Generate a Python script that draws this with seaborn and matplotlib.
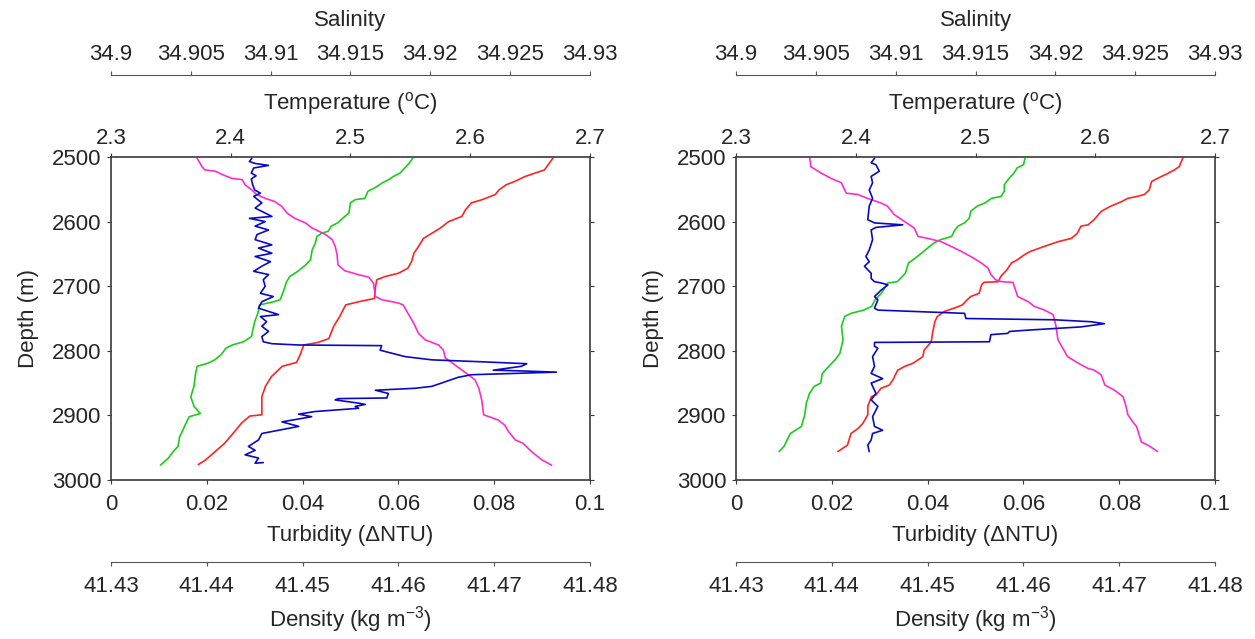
import matplotlib
matplotlib.use("Agg")
import matplotlib.pyplot as plt
import seaborn as sns

sns.set_style("white")
plt.rcParams['font.family'] = ['Liberation Sans', 'DejaVu Sans']
plt.rcParams['mathtext.fontset'] = 'custom'
plt.rcParams['mathtext.rm'] = 'Liberation Sans'
plt.rcParams['mathtext.it'] = 'Liberation Sans:italic'

# axis ticks / labels
depth_ticks = [2500, 2600, 2700, 2800, 2900, 3000]
turb_ticks = [0, 0.02, 0.04, 0.06, 0.08, 0.1]
turb_labels = ['0', '0.02', '0.04', '0.06', '0.08', '0.1']
temp_ticks = [2.3, 2.4, 2.5, 2.6, 2.7]
temp_labels = ['2.3', '2.4', '2.5', '2.6', '2.7']
sal_ticks = [34.9, 34.905, 34.91, 34.915, 34.92, 34.925, 34.93]
sal_labels = ['34.9', '34.905', '34.91', '34.915', '34.92', '34.925', '34.93']
dens_ticks = [41.43, 41.44, 41.45, 41.46, 41.47, 41.48]
dens_labels = ['41.43', '41.44', '41.45', '41.46', '41.47', '41.48']

# ---- left profile ----
l_temp_depth = [2502, 2520, 2525, 2530, 2538, 2543, 2551, 2558, 2566, 2571, 2582, 2592, 2600, 2610,
                2618, 2626, 2638, 2649, 2662, 2672, 2680, 2685, 2690, 2700, 2719, 2724, 2729, 2747,
                2762, 2781, 2787, 2791, 2806, 2818, 2824, 2840, 2855, 2871, 2899, 2901, 2912, 2930,
                2943, 2956, 2969, 2976]
l_temp = [2.669, 2.662, 2.654, 2.646, 2.637, 2.630, 2.624, 2.621, 2.610, 2.601, 2.596, 2.593, 2.582,
          2.575, 2.568, 2.561, 2.557, 2.553, 2.551, 2.548, 2.540, 2.529, 2.522, 2.521, 2.520, 2.507,
          2.496, 2.491, 2.486, 2.482, 2.473, 2.461, 2.458, 2.455, 2.443, 2.434, 2.429, 2.426, 2.426,
          2.416, 2.409, 2.401, 2.395, 2.387, 2.379, 2.373]

l_dens_depth = [2502, 2515, 2520, 2522, 2527, 2533, 2535, 2543, 2551, 2558, 2564, 2569, 2576, 2587,
                2595, 2602, 2610, 2615, 2620, 2628, 2638, 2651, 2667, 2676, 2682, 2686, 2695, 2716,
                2721, 2726, 2729, 2742, 2757, 2773, 2783, 2791, 2799, 2811, 2824, 2837, 2845, 2858,
                2876, 2899, 2907, 2915, 2925, 2938, 2943, 2956, 2969, 2977]
l_dens = [41.4390, 41.4395, 41.4398, 41.4409, 41.4416, 41.4426, 41.4437, 41.4440, 41.4447, 41.4452,
          41.4461, 41.4471, 41.4478, 41.4484, 41.4492, 41.4503, 41.4510, 41.4517, 41.4524, 41.4531,
          41.4534, 41.4536, 41.4537, 41.4544, 41.4558, 41.4569, 41.4574, 41.4576, 41.4583, 41.4600,
          41.4605, 41.4610, 41.4616, 41.4621, 41.4628, 41.4642, 41.4647, 41.4649, 41.4661, 41.4673,
          41.4680, 41.4684, 41.4687, 41.4689, 41.4704, 41.4711, 41.4715, 41.4722, 41.4730, 41.4739,
          41.4750, 41.4760]

l_sal_depth = [2502, 2509, 2517, 2525, 2530, 2535, 2540, 2548, 2553, 2564, 2566, 2571, 2587, 2595,
               2602, 2607, 2615, 2618, 2623, 2633, 2644, 2659, 2667, 2677, 2685, 2693, 2708, 2721,
               2724, 2729, 2742, 2755, 2778, 2786, 2791, 2796, 2806, 2814, 2819, 2824, 2835, 2855,
               2871, 2886, 2897, 2902, 2912, 2923, 2933, 2948, 2956, 2966, 2977]
l_sal = [34.9189, 34.9187, 34.9184, 34.9181, 34.9177, 34.9174, 34.9170, 34.9165, 34.9161, 34.9159,
         34.9153, 34.9150, 34.9149, 34.9145, 34.9142, 34.9138, 34.9136, 34.9132, 34.9129, 34.9128,
         34.9126, 34.9125, 34.9122, 34.9117, 34.9112, 34.9110, 34.9108, 34.9106, 34.9102, 34.9093,
         34.9092, 34.9090, 34.9088, 34.9083, 34.9076, 34.9072, 34.9069, 34.9065, 34.9061, 34.9054,
         34.9053, 34.9052, 34.9050, 34.9052, 34.9056, 34.9049, 34.9047, 34.9045, 34.9043, 34.9042,
         34.9039, 34.9036, 34.9031]

l_turb_depth = [2502, 2507, 2510, 2513, 2517, 2525, 2529, 2534, 2543, 2551, 2556, 2561, 2571, 2579,
                2592, 2595, 2600, 2607, 2613, 2620, 2628, 2636, 2641, 2649, 2654, 2662, 2669, 2677,
                2682, 2690, 2700, 2711, 2716, 2724, 2734, 2744, 2747, 2755, 2762, 2770, 2778, 2786,
                2789, 2791, 2792, 2799, 2801, 2809, 2814, 2817, 2820, 2824, 2830, 2831, 2833, 2837,
                2841, 2855, 2858, 2861, 2866, 2873, 2874, 2876, 2881, 2883, 2886, 2889, 2894, 2898,
                2902, 2910, 2917, 2923, 2928, 2938, 2948, 2954, 2961, 2966, 2974, 2973]
l_turb = [0.0294, 0.0289, 0.0301, 0.0329, 0.0298, 0.0293, 0.0303, 0.0293, 0.0296, 0.0300, 0.0312,
          0.0298, 0.0315, 0.0301, 0.0336, 0.0289, 0.0322, 0.0301, 0.0329, 0.0305, 0.0301, 0.0336,
          0.0308, 0.0336, 0.0301, 0.0333, 0.0315, 0.0298, 0.0329, 0.0318, 0.0322, 0.0312, 0.0339,
          0.0315, 0.0308, 0.0350, 0.0312, 0.0325, 0.0315, 0.0329, 0.0315, 0.0318, 0.0336, 0.0392,
          0.0565, 0.0562, 0.0572, 0.0614, 0.0670, 0.0774, 0.0868, 0.0857, 0.0798, 0.0851, 0.0930,
          0.0753, 0.0725, 0.0670, 0.0635, 0.0552, 0.0579, 0.0576, 0.0475, 0.0468, 0.0517, 0.0531,
          0.0510, 0.0517, 0.0426, 0.0392, 0.0419, 0.0357, 0.0392, 0.0350, 0.0315, 0.0308, 0.0287,
          0.0301, 0.0280, 0.0308, 0.0301, 0.0318]

# ---- right profile ----
r_temp_depth = [2502, 2515, 2520, 2525, 2533, 2538, 2551, 2558, 2561, 2564, 2569, 2576, 2584, 2597,
                2605, 2607, 2618, 2626, 2631, 2638, 2646, 2651, 2659, 2664, 2675, 2685, 2693, 2694,
                2698, 2711, 2716, 2721, 2729, 2734, 2739, 2747, 2755, 2773, 2786, 2799, 2809, 2819,
                2824, 2830, 2845, 2853, 2858, 2868, 2871, 2886, 2899, 2912, 2920, 2928, 2946, 2956]
r_temp = [2.673, 2.670, 2.666, 2.661, 2.652, 2.647, 2.645, 2.641, 2.635, 2.627, 2.622, 2.613, 2.605,
          2.599, 2.594, 2.588, 2.585, 2.580, 2.569, 2.558, 2.546, 2.541, 2.535, 2.530, 2.526, 2.521,
          2.519, 2.507, 2.505, 2.503, 2.496, 2.493, 2.489, 2.482, 2.474, 2.468, 2.466, 2.464, 2.463,
          2.457, 2.456, 2.448, 2.441, 2.435, 2.431, 2.428, 2.421, 2.417, 2.413, 2.410, 2.410, 2.406,
          2.402, 2.396, 2.393, 2.385]

r_dens_depth = [2502, 2515, 2525, 2533, 2540, 2556, 2558, 2564, 2571, 2576, 2589, 2600, 2610, 2623,
                2626, 2631, 2638, 2646, 2654, 2664, 2672, 2682, 2690, 2693, 2694, 2703, 2716, 2724,
                2731, 2737, 2744, 2762, 2783, 2809, 2819, 2827, 2830, 2837, 2853, 2861, 2871, 2886,
                2899, 2910, 2917, 2941, 2948, 2956]
r_dens = [41.4377, 41.4378, 41.4389, 41.4399, 41.4410, 41.4415, 41.4427, 41.4437, 41.4451, 41.4458,
          41.4465, 41.4476, 41.4486, 41.4490, 41.4500, 41.4514, 41.4524, 41.4535, 41.4545, 41.4556,
          41.4563, 41.4566, 41.4571, 41.4577, 41.4589, 41.4591, 41.4594, 41.4605, 41.4611, 41.4622,
          41.4631, 41.4634, 41.4636, 41.4646, 41.4657, 41.4667, 41.4674, 41.4681, 41.4685, 41.4695,
          41.4704, 41.4707, 41.4709, 41.4714, 41.4718, 41.4723, 41.4732, 41.4740]

r_sal_depth = [2502, 2512, 2517, 2525, 2533, 2543, 2553, 2561, 2564, 2571, 2576, 2584, 2595, 2602,
               2607, 2613, 2623, 2628, 2633, 2641, 2649, 2657, 2664, 2680, 2693, 2695, 2703, 2711,
               2721, 2731, 2737, 2742, 2747, 2762, 2783, 2804, 2814, 2827, 2835, 2850, 2855, 2866,
               2881, 2899, 2917, 2928, 2938, 2948, 2956]
r_sal = [34.9181, 34.9180, 34.9176, 34.9174, 34.9171, 34.9168, 34.9168, 34.9166, 34.9160, 34.9156,
         34.9151, 34.9147, 34.9146, 34.9143, 34.9139, 34.9137, 34.9135, 34.9128, 34.9124, 34.9120,
         34.9116, 34.9112, 34.9108, 34.9106, 34.9101, 34.9095, 34.9093, 34.9091, 34.9087, 34.9085,
         34.9080, 34.9072, 34.9068, 34.9066, 34.9067, 34.9065, 34.9062, 34.9057, 34.9054, 34.9053,
         34.9049, 34.9046, 34.9044, 34.9043, 34.9041, 34.9034, 34.9032, 34.9030, 34.9027]

r_turb_depth = [2502, 2509, 2512, 2522, 2530, 2540, 2551, 2564, 2576, 2597, 2602, 2605, 2609, 2613,
                2628, 2644, 2654, 2662, 2669, 2680, 2688, 2693, 2695, 2698, 2706, 2711, 2716, 2721,
                2734, 2737, 2742, 2750, 2752, 2755, 2758, 2763, 2768, 2770, 2773, 2775, 2786, 2787,
                2793, 2796, 2809, 2824, 2835, 2843, 2850, 2866, 2876, 2886, 2902, 2917, 2923, 2928,
                2938, 2946, 2956]
r_turb = [0.0289, 0.0282, 0.0292, 0.0299, 0.0282, 0.0285, 0.0278, 0.0285, 0.0278, 0.0275, 0.0289,
          0.0348, 0.0292, 0.0282, 0.0285, 0.0278, 0.0271, 0.0278, 0.0268, 0.0282, 0.0282, 0.0289,
          0.0303, 0.0317, 0.0303, 0.0296, 0.0289, 0.0296, 0.0289, 0.0296, 0.0477, 0.0480, 0.0665,
          0.0741, 0.0769, 0.0720, 0.0609, 0.0571, 0.0567, 0.0532, 0.0529, 0.0289, 0.0289, 0.0296,
          0.0285, 0.0289, 0.0282, 0.0306, 0.0282, 0.0292, 0.0282, 0.0296, 0.0285, 0.0289, 0.0306,
          0.0285, 0.0282, 0.0275, 0.0278]

c_temp = '#ff2424'
c_sal = '#1ccc1c'
c_dens = '#ff2ccc'
c_turb = '#0a0ac4'
spine_c = '#3a3a3a'
fs = 16
lw = 1.2


def panel(fig, left, temp_d, temp, sal_d, sal, dens_d, dens, turb_d, turb):
    ax = fig.add_axes([left, 0.2488, 0.3817, 0.5055])
    ax_t = ax.twiny()
    ax_s = ax.twiny()
    ax_d = ax.twiny()

    sns.lineplot(x=sal, y=sal_d, ax=ax_s, color=c_sal, lw=lw, sort=False, estimator=None)
    sns.lineplot(x=temp, y=temp_d, ax=ax_t, color=c_temp, lw=lw, sort=False, estimator=None)
    sns.lineplot(x=dens, y=dens_d, ax=ax_d, color=c_dens, lw=lw, sort=False, estimator=None)
    sns.lineplot(x=turb, y=turb_d, ax=ax, color=c_turb, lw=lw, sort=False, estimator=None)

    # turbidity axes on top so the blue profile is drawn last
    ax.set_zorder(10)
    ax.patch.set_visible(False)

    ax.set_ylim(3000, 2500)
    ax.set_yticks(depth_ticks, [str(d) for d in depth_ticks])
    ax.set_ylabel('Depth (m)', fontsize=fs, labelpad=9)

    ax.set_xlim(0, 0.1)
    ax.set_xticks(turb_ticks, turb_labels)
    ax.set_xlabel('Turbidity (\u0394NTU)', fontsize=fs, labelpad=7)

    ax_t.set_xlim(2.3, 2.7)
    ax_t.set_xticks(temp_ticks, temp_labels)
    ax_t.set_xlabel(r'Temperature ($^{\mathrm{o}}$C)', fontsize=fs, labelpad=13)

    ax_s.set_xlim(34.9, 34.93)
    ax_s.set_xticks(sal_ticks, sal_labels)
    ax_s.set_xlabel('Salinity', fontsize=fs, labelpad=13)
    ax_s.xaxis.set_ticks_position('top')
    ax_s.xaxis.set_label_position('top')

    ax_d.set_xlim(41.43, 41.48)
    ax_d.set_xticks(dens_ticks, dens_labels)
    ax_d.set_xlabel(r'Density (kg m$^{-3}$)', fontsize=fs, labelpad=5)
    ax_d.xaxis.set_ticks_position('bottom')
    ax_d.xaxis.set_label_position('bottom')

    for a in (ax_t, ax_s, ax_d):
        for s in a.spines.values():
            s.set_visible(False)
    for s in ax.spines.values():
        s.set_color(spine_c)
        s.set_linewidth(1.2)

    # detached salinity / density axes
    ax_s.spines['top'].set_visible(True)
    ax_s.spines['top'].set_position(('outward', 59))
    ax_s.spines['top'].set_color('#555555')
    ax_d.spines['bottom'].set_visible(True)
    ax_d.spines['bottom'].set_position(('outward', 59))
    ax_d.spines['bottom'].set_color('#555555')

    ax.tick_params(axis='x', bottom=True, top=False, direction='out', length=3,
                   color=spine_c, labelsize=fs, pad=7)
    ax.tick_params(axis='y', left=True, right=True, direction='out', length=3,
                   color=spine_c, labelsize=fs, pad=4)
    ax_t.tick_params(axis='x', top=True, bottom=False, direction='out', length=3,
                     color=spine_c, labelsize=fs, pad=3)
    ax_s.tick_params(axis='x', top=True, bottom=False, direction='out', length=3,
                     color='#555555', labelsize=fs, pad=4)
    ax_d.tick_params(axis='x', bottom=True, top=False, direction='out', length=3,
                     color='#555555', labelsize=fs, pad=7)
    return ax


fig = plt.figure(figsize=(12.55, 6.39), dpi=100)
fig.patch.set_facecolor('white')

panel(fig, 0.0884, l_temp_depth, l_temp, l_sal_depth, l_sal, l_dens_depth, l_dens,
      l_turb_depth, l_turb)
panel(fig, 0.5865, r_temp_depth, r_temp, r_sal_depth, r_sal, r_dens_depth, r_dens,
      r_turb_depth, r_turb)

fig.savefig('out.png', dpi=100, facecolor='white')
